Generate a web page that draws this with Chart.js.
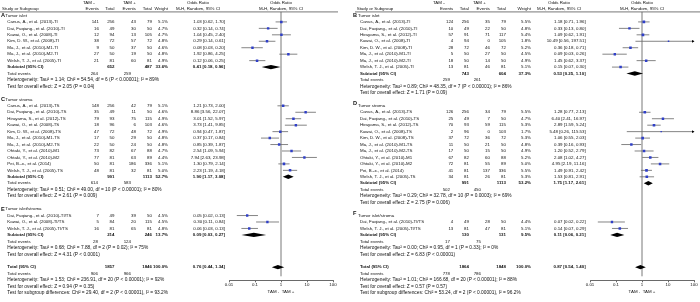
<!DOCTYPE html>
<html>
<head>
<meta charset="utf-8">
<script src="https://cdn.jsdelivr.net/npm/chart.js@4.4.1/dist/chart.umd.min.js"></script>
<style>
    html, body { margin: 0; padding: 0; background: #fff; }
    #wrap { position: relative; width: 700px; height: 302px; overflow: hidden; }
    canvas { position: absolute; top: 0; }
    #chartLeft { left: 0; }
    #chartRight { left: 350px; }
</style>
</head>
<body>
<div id="wrap">
    <canvas id="chartLeft" width="350" height="302"></canvas>
    <canvas id="chartRight" width="350" height="302"></canvas>
</div>
<script>
// study rows: [name, TAM- events, TAM- total, TAM+ events, TAM+ total, weight %, OR, lower, upper]
const studiesA = [
    ["Canus, A., et al. (2013)-TI", 141, 256, 43, 79, 5.1, 1.03, 0.62, 1.70],
    ["Dai, Fuqiang., et al. (2010)-TI", 16, 49, 30, 50, 4.7, 0.32, 0.14, 0.74],
    ["Kawai, O., et al. (2008)-TI", 12, 94, 13, 105, 4.7, 1.04, 0.45, 2.40],
    ["Kim, D. W., et al. (2008)-TI", 38, 72, 57, 72, 4.8, 0.29, 0.14, 0.61],
    ["Ma, J., et al. (2010)-M1-TI", 9, 50, 37, 50, 4.6, 0.08, 0.03, 0.20],
    ["Ma, J., et al. (2010)-M2-TI", 27, 50, 19, 50, 4.8, 1.92, 0.86, 4.25],
    ["Welsh, T. J., et al. (2005)-TI", 21, 81, 60, 81, 4.9, 0.12, 0.06, 0.25],
];
const studiesC = [
    ["Canus, A., et al. (2013)-TS", 148, 256, 42, 79, 5.1, 1.21, 0.73, 2.00],
    ["Dai, Fuqiang., et al. (2010)-TS", 35, 49, 11, 50, 4.6, 8.86, 3.56, 22.07],
    ["Hirayama, S., et al. (2012)-TS", 79, 93, 75, 115, 4.9, 3.01, 1.52, 5.97],
    ["Kawai, O., et al. (2008)-TS", 18, 96, 6, 103, 4.6, 3.73, 1.41, 9.85],
    ["Kim, D. W., et al. (2008)-TS", 47, 72, 48, 72, 4.9, 0.94, 0.47, 1.87],
    ["Ma, J., et al. (2010)-M1-TS", 17, 50, 29, 50, 4.8, 0.37, 0.17, 0.84],
    ["Ma, J., et al. (2010)-M2-TS", 22, 50, 24, 50, 4.8, 0.85, 0.39, 1.87],
    ["Ohtaki, Y., et al. (2010)-M1", 73, 82, 67, 88, 4.7, 2.54, 1.09, 5.94],
    ["Ohtaki, Y., et al. (2010)-M2", 77, 81, 63, 89, 4.4, 7.94, 2.63, 23.98],
    ["Pei, B.-x., et al. (2014)", 50, 81, 186, 336, 5.1, 1.30, 0.79, 2.14],
    ["Welsh, T. J., et al. (2005)-TS", 48, 81, 32, 81, 5.0, 2.23, 1.19, 4.18],
];
const studiesE = [
    ["Dai, Fuqiang., et al. (2010)-TI/TS", 7, 49, 39, 50, 4.5, 0.05, 0.02, 0.13],
    ["Kawai, O., et al. (2008)-TI/TS", 5, 84, 20, 115, 4.5, 0.30, 0.11, 0.84],
    ["Welsh, T. J., et al. (2005)-TI/TS", 16, 81, 65, 81, 4.8, 0.06, 0.03, 0.13],
];
const studiesB = [
    ["Canus, A., et al. (2013)-TI", 124, 256, 35, 79, 5.5, 1.18, 0.71, 1.96],
    ["Dai, Fuqiang., et al. (2010)-TI", 10, 49, 22, 50, 4.8, 0.33, 0.13, 0.80],
    ["Hirayama, S., et al. (2012)-TI", 57, 91, 71, 117, 5.4, 1.09, 0.62, 1.91],
    ["Kawai, O., et al. (2008)-TI", 4, 94, 0, 105, 1.8, 10.49, 0.56, 197.51],
    ["Kim, D. W., et al. (2008)-TI", 28, 72, 46, 72, 5.2, 0.36, 0.18, 0.71],
    ["Ma, J., et al. (2010)-M1-TI", 5, 50, 27, 50, 4.5, 0.09, 0.03, 0.26],
    ["Ma, J., et al. (2010)-M2-TI", 18, 50, 14, 50, 4.9, 1.45, 0.62, 3.37],
    ["Welsh, T. J., et al. (2005)-TI", 13, 81, 46, 81, 5.1, 0.15, 0.07, 0.30],
];
const studiesD = [
    ["Canus, A., et al. (2013)-TS", 126, 256, 34, 79, 5.5, 1.28, 0.77, 2.13],
    ["Dai, Fuqiang., et al. (2010)-TS", 25, 49, 7, 50, 4.7, 6.40, 2.41, 16.97],
    ["Hirayama, S., et al. (2012)-TS", 70, 93, 59, 115, 5.3, 2.89, 1.59, 5.24],
    ["Kawai, O., et al. (2008)-TS", 2, 96, 0, 103, 1.7, 5.48, 0.26, 115.53],
    ["Kim, D. W., et al. (2008)-TS", 37, 72, 36, 72, 5.3, 1.06, 0.55, 2.03],
    ["Ma, J., et al. (2010)-M1-TS", 11, 50, 21, 50, 4.8, 0.39, 0.16, 0.93],
    ["Ma, J., et al. (2010)-M2-TS", 17, 50, 15, 50, 4.9, 1.20, 0.52, 2.79],
    ["Ohtaki, Y., et al. (2010)-M1", 67, 82, 60, 88, 5.2, 2.08, 1.02, 4.27],
    ["Ohtaki, Y., et al. (2010)-M2", 72, 81, 55, 89, 5.0, 4.95, 2.19, 11.16],
    ["Pei, B.-x., et al. (2014)", 41, 81, 137, 336, 5.5, 1.49, 0.91, 2.42],
    ["Welsh, T. J., et al. (2005)-TS", 34, 81, 26, 81, 5.3, 1.53, 0.81, 2.91],
];
const studiesF = [
    ["Dai, Fuqiang., et al. (2010)-TI/TS", 4, 49, 28, 50, 4.4, 0.07, 0.02, 0.22],
    ["Welsh, T. J., et al. (2005)-TI/TS", 13, 81, 47, 81, 5.1, 0.14, 0.07, 0.29],
];

// subtotals: [TAM- total, TAM+ total, weight %, OR, lower, upper]
const subtotalA = [652, 487, 33.6, 0.41, 0.18, 0.96];
const subtotalC = [991, 1113, 52.7, 1.90, 1.17, 3.08];
const subtotalE = [214, 246, 13.7, 0.09, 0.03, 0.27];
const subtotalB = [743, 604, 37.3, 0.53, 0.25, 1.10];
const subtotalD = [991, 1113, 53.2, 1.75, 1.17, 2.61];
const subtotalF = [130, 131, 9.5, 0.11, 0.06, 0.21];
const totalLeft = [1857, 1846, 100.0, 0.76, 0.44, 1.34];
const totalRight = [1864, 1848, 100.0, 0.87, 0.54, 1.40];

// total events: [TAM-, TAM+]
const eventsA = [264, 259];
const eventsC = [614, 583];
const eventsE = [28, 124];
const eventsB = [259, 261];
const eventsD = [502, 450];
const eventsF = [17, 75];
const eventsLeft = [906, 966];
const eventsRight = [778, 786];

const notesA = ["Heterogeneity: Tau² = 1.14; Chi² = 54.54, df = 6 (P < 0.00001); I² = 89%", "Test for overall effect: Z = 2.05 (P = 0.04)"];
const notesC = ["Heterogeneity: Tau² = 0.51; Chi² = 49.00, df = 10 (P < 0.00001); I² = 80%", "Test for overall effect: Z = 2.61 (P = 0.009)"];
const notesE = ["Heterogeneity: Tau² = 0.68; Chi² = 7.88, df = 2 (P = 0.02); I² = 75%", "Test for overall effect: Z = 4.31 (P < 0.0001)"];
const notesB = ["Heterogeneity: Tau² = 0.89; Chi² = 48.35, df = 7 (P < 0.00001); I² = 86%", "Test for overall effect: Z = 1.71 (P = 0.09)"];
const notesD = ["Heterogeneity: Tau² = 0.29; Chi² = 32.78, df = 10 (P = 0.0003); I² = 69%", "Test for overall effect: Z = 2.75 (P = 0.006)"];
const notesF = ["Heterogeneity: Tau² = 0.00; Chi² = 0.95, df = 1 (P = 0.33); I² = 0%", "Test for overall effect: Z = 6.83 (P < 0.00001)"];
const notesLeft = [
    "Heterogeneity: Tau² = 1.53; Chi² = 236.91, df = 20 (P < 0.00001); I² = 92%",
    "Test for overall effect: Z = 0.94 (P = 0.35)",
    "Test for subgroup differences: Chi² = 29.40, df = 2 (P < 0.00001), I² = 93.2%",
];
const notesRight = [
    "Heterogeneity: Tau² = 1.01; Chi² = 166.68, df = 20 (P < 0.00001); I² = 88%",
    "Test for overall effect: Z = 0.57 (P = 0.57)",
    "Test for subgroup differences: Chi² = 53.24, df = 2 (P < 0.00001), I² = 96.2%",
];

const axisTicks = [0.01, 0.1, 1, 10, 100];
const groupHeads = ["TAM -", "TAM +"];
const colHeads = ["Study or Subgroup", "Events", "Total", "Events", "Total", "Weight"];
const orHeads = ["Odds Ratio", "M-H, Random, 95% CI"];
const axisTitle = "TAM -  TAM +";

const FONT = '"Liberation Sans", Arial, sans-serif';
const FS = 4.4;
const NOTE_FS = 4.8;
const INK = "#111";

// row grid: row 0 sits at FIRST_Y, rows are ROW_H apart, x axis line at AXIS_Y
const FIRST_Y = 15.5, ROW_H = 6.47, AXIS_Y = 281;

function buildRows(sections, totals, totalEvents, totalNotes) {
    const rows = [];
    let i = 0;
    sections.forEach((s) => {
        rows.push({ idx: i++, kind: "section", letter: s.letter, title: s.title, raise: s.raise || 0 });
        s.studies.forEach((d) => rows.push({ idx: i++, kind: "study", d }));
        rows.push({ idx: i++, kind: "subtotal", label: "Subtotal (95% CI)", d: s.subtotal });
        rows.push({ idx: i++, kind: "events", d: s.events });
        s.notes.forEach((t) => rows.push({ idx: i++, kind: "note", text: t }));
        i++;
    });
    rows.push({ idx: i++, kind: "subtotal", label: "Total (95% CI)", d: totals });
    rows.push({ idx: i++, kind: "events", d: totalEvents });
    totalNotes.forEach((t) => rows.push({ idx: i++, kind: "note", text: t }));
    return rows;
}

const ciText = (or, lo, hi) => `${or.toFixed(2)} [${lo.toFixed(2)}, ${hi.toFixed(2)}]`;

function put(ctx, text, px, py, align, bold, size) {
    ctx.font = `${bold ? "bold " : ""}${size || FS}px ${FONT}`;
    ctx.textAlign = align;
    ctx.fillText(text, px, py);
}

const forestPlot = {
    id: "forestPlot",
    beforeDatasetsDraw(chart, _args, opts) {
        const { ctx, chartArea, scales: { x, y } } = chart;
        const c = opts.cols;
        ctx.save();
        ctx.strokeStyle = "#555";
        ctx.lineWidth = 0.8;

        const ruleY = y.getPixelForValue(-0.55);
        ctx.beginPath();
        ctx.moveTo(c.ruleFrom, ruleY);
        ctx.lineTo(c.ruleTo, ruleY);
        ctx.stroke();

        const x1 = x.getPixelForValue(1);
        ctx.beginPath();
        ctx.moveTo(x1, ruleY);
        ctx.lineTo(x1, chartArea.bottom - 4);
        ctx.stroke();

        for (const r of opts.rows) {
            if (r.kind !== "study")
                continue;
            const lo = r.d[7], hi = r.d[8];
            const py = y.getPixelForValue(r.idx);
            const xa = x.getPixelForValue(Math.max(lo, x.min));
            const xb = x.getPixelForValue(Math.min(hi, x.max));
            ctx.strokeStyle = "#666";
            ctx.beginPath();
            ctx.moveTo(xa, py);
            ctx.lineTo(xb, py);
            ctx.stroke();
            if (hi > x.max) {
                ctx.fillStyle = "#000";
                ctx.beginPath();
                ctx.moveTo(xb + 0.5, py);
                ctx.lineTo(xb - 2, py - 1.4);
                ctx.lineTo(xb - 2, py + 1.4);
                ctx.closePath();
                ctx.fill();
            }
        }

        ctx.fillStyle = "#000";
        for (const r of opts.rows) {
            if (r.kind !== "subtotal")
                continue;
            const [, , , or, lo, hi] = r.d;
            const py = y.getPixelForValue(r.idx);
            const xm = x.getPixelForValue(or);
            ctx.beginPath();
            ctx.moveTo(x.getPixelForValue(lo), py);
            ctx.lineTo(xm, py - 2.2);
            ctx.lineTo(x.getPixelForValue(hi), py);
            ctx.lineTo(xm, py + 2.2);
            ctx.closePath();
            ctx.fill();
        }
        ctx.restore();
    },
    afterDraw(chart, _args, opts) {
        const { ctx, scales: { x, y } } = chart;
        const c = opts.cols;
        const yp = (i) => y.getPixelForValue(i);
        const plotMid = x.getPixelForValue(1);
        ctx.save();
        ctx.fillStyle = INK;
        ctx.textBaseline = "middle";

        put(ctx, groupHeads[0], c.tamNeg, yp(-2), "left");
        put(ctx, groupHeads[1], c.tamPos, yp(-2), "left");
        put(ctx, orHeads[0], c.ciHead, yp(-2), "center");
        put(ctx, orHeads[0], plotMid, yp(-2), "center");
        put(ctx, colHeads[0], c.head, yp(-1), "left");
        put(ctx, colHeads[1], c.ev1, yp(-1), "right");
        put(ctx, colHeads[2], c.n1, yp(-1), "right");
        put(ctx, colHeads[3], c.ev2, yp(-1), "right");
        put(ctx, colHeads[4], c.n2, yp(-1), "right");
        put(ctx, colHeads[5], c.w, yp(-1), "right");
        put(ctx, orHeads[1], c.ciHead, yp(-1), "center");
        put(ctx, orHeads[1], plotMid, yp(-1), "center");

        for (const r of opts.rows) {
            const py = yp(r.idx);
            if (r.kind === "section") {
                put(ctx, r.letter, c.letter, py + r.raise, "left", true, 5.6);
                put(ctx, r.title, c.title, py, "left");
            } else if (r.kind === "study") {
                const d = r.d;
                put(ctx, d[0], c.name, py, "left");
                put(ctx, String(d[1]), c.ev1, py, "right");
                put(ctx, String(d[2]), c.n1, py, "right");
                put(ctx, String(d[3]), c.ev2, py, "right");
                put(ctx, String(d[4]), c.n2, py, "right");
                put(ctx, `${d[5].toFixed(1)}%`, c.w, py, "right");
                put(ctx, ciText(d[6], d[7], d[8]), c.ci, py, "right");
            } else if (r.kind === "subtotal") {
                const d = r.d;
                put(ctx, r.label, c.name, py, "left", true);
                put(ctx, String(d[0]), c.n1, py, "right", true);
                put(ctx, String(d[1]), c.n2, py, "right", true);
                put(ctx, `${d[2].toFixed(1)}%`, c.w, py, "right", true);
                put(ctx, ciText(d[3], d[4], d[5]), c.ci, py, "right", true);
            } else if (r.kind === "events") {
                put(ctx, "Total events", c.name, py, "left");
                put(ctx, String(r.d[0]), c.te1, py, "right");
                put(ctx, String(r.d[1]), c.te2, py, "right");
            } else {
                put(ctx, r.text, c.name, py, "left", false, NOTE_FS);
            }
        }
        ctx.restore();
    }
};

function makePanel(canvasId, rows, cols, padLeft, padRight) {
    const studyRows = rows.filter((r) => r.kind === "study");
    return new Chart(document.getElementById(canvasId), {
        type: "scatter",
        data: {
            datasets: [{
                data: studyRows.map((r) => ({ x: r.d[6], y: r.idx })),
                pointStyle: "rect",
                pointRadius: studyRows.map((r) => 0.8 * Math.sqrt(r.d[5])),
                pointHoverRadius: studyRows.map((r) => 0.8 * Math.sqrt(r.d[5])),
                backgroundColor: "#2f3fc8",
                borderWidth: 0,
            }]
        },
        options: {
            responsive: false,
            animation: false,
            events: [],
            layout: {
                autoPadding: false,
                padding: { left: padLeft, right: padRight, top: 0, bottom: 8.4 },
            },
            plugins: {
                legend: { display: false },
                tooltip: { enabled: false },
                forestPlot: { rows, cols },
            },
            scales: {
                x: {
                    type: "logarithmic",
                    min: 0.01,
                    max: 100,
                    afterBuildTicks: (scale) => {
                        scale.ticks = axisTicks.map((v) => ({ value: v }));
                    },
                    ticks: {
                        callback: (value) => String(value),
                        color: INK,
                        font: { family: FONT, size: FS, lineHeight: 1 },
                        padding: 0.5,
                        maxRotation: 0,
                        autoSkip: false,
                    },
                    grid: {
                        drawOnChartArea: false,
                        drawTicks: true,
                        tickLength: 2,
                        color: "#444",
                        lineWidth: 0.8,
                    },
                    border: { display: true, color: "#444", width: 0.8 },
                    title: {
                        display: true,
                        text: axisTitle,
                        color: INK,
                        font: { family: FONT, size: FS, lineHeight: 1 },
                        padding: { top: 1.5, bottom: 0 },
                    },
                },
                y: {
                    type: "linear",
                    reverse: true,
                    display: false,
                    min: -FIRST_Y / ROW_H,
                    max: (AXIS_Y - FIRST_Y) / ROW_H,
                },
            },
        },
        plugins: [forestPlot],
    });
}

const rowsLeft = buildRows([
    { letter: "A", title: "Tumor islet", studies: studiesA, subtotal: subtotalA, events: eventsA, notes: notesA },
    { letter: "C", title: "Tumor stroma", studies: studiesC, subtotal: subtotalC, events: eventsC, notes: notesC },
    { letter: "E", title: "Tumor islet/stroma", studies: studiesE, subtotal: subtotalE, events: eventsE, notes: notesE },
], totalLeft, eventsLeft, notesLeft);

const rowsRight = buildRows([
    { letter: "B", title: "Tumor islet", studies: studiesB, subtotal: subtotalB, events: eventsB, notes: notesB },
    { letter: "D", title: "Tumor stroma", studies: studiesD, subtotal: subtotalD, events: eventsD, notes: notesD, raise: -2 },
    { letter: "F", title: "Tumor islet/stroma", studies: studiesF, subtotal: subtotalF, events: eventsF, notes: notesF, raise: -2 },
], totalRight, eventsRight, notesRight);

makePanel("chartLeft", rowsLeft, {
    letter: 1, title: 5.3, name: 7.3, head: 2,
    ev1: 99, n1: 114.5, ev2: 136, n2: 152, w: 168, ci: 225, ciHead: 198,
    te1: 98, te2: 131, tamNeg: 83, tamPos: 123, ruleFrom: 0, ruleTo: 338,
}, 229, 17);

makePanel("chartRight", rowsRight, {
    letter: 3, title: 8, name: 10, head: 6.7,
    ev1: 103.3, n1: 119, ev2: 140, n2: 156, w: 181, ci: 235.7, ciHead: 209,
    te1: 100, te2: 131, tamNeg: 83, tamPos: 123, ruleFrom: 5, ruleTo: 350,
}, 240, 6);
</script>
</body>
</html>
